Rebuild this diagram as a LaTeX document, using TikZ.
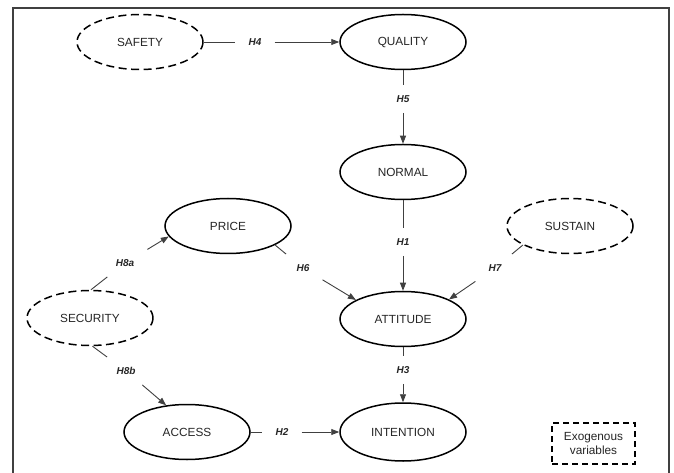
\documentclass[tikz,border=0pt]{standalone}
\usepackage{fontspec}
\setmainfont{Liberation Sans}
\usetikzlibrary{shapes.geometric,arrows.meta}
\tikzset{
  var/.style={ellipse,draw=black,line width=1.5bp,minimum width=126bp,minimum height=55bp,inner sep=0pt,
    font=\fontsize{11.8bp}{13bp}\selectfont,text=black!85},
  exo/.style={var,dash pattern=on 8bp off 4.5bp},
  hyp/.style={inner xsep=13bp,inner ysep=10bp,text height=7.5bp,text depth=0pt,
    font=\fontsize{10bp}{12bp}\selectfont\bfseries\itshape,text=black!85},
  link/.style={draw=black!75,line width=0.9bp},
  arr/.style={link,-{Triangle[length=8bp,width=6bp]}},
}
\begin{document}
\begin{tikzpicture}[x=1bp,y=-1bp]
\useasboundingbox (0,0) rectangle (674,473);
\fill[white] (0,0) rectangle (674,473);
\draw[black!75,line width=1.4bp] (13,480) -- (13,8) -- (669,8) -- (669,480);

\node[exo] (saf) at (140,42) {SAFETY};
\node[var] (qua) at (403,42) {QUALITY};
\node[var] (nor) at (403,172) {NORMAL};
\node[var] (pri) at (228,226) {PRICE};
\node[exo] (sus) at (570,226) {SUSTAIN};
\node[exo] (sec) at (90,318) {SECURITY};
\node[var] (att) at (403,319) {ATTITUDE};
\node[var] (acc) at (187,432) {ACCESS};
\node[var,minimum height=58bp] (int) at (403,432) {INTENTION};

\node[hyp] (h4) at (255,42) {H4};
\node[hyp] (h5) at (403,99) {H5};
\node[hyp] (h1) at (403,242) {H1};
\node[hyp] (h3) at (403,370) {H3};
\node[hyp] (h2) at (282,432) {H2};
\node[hyp] (h6) at (303,268) {H6};
\node[hyp] (h7) at (495,268) {H7};
\node[hyp] (h8a) at (125,263) {H8a};
\node[hyp] (h8b) at (126,371) {H8b};

\draw[link] (saf.east) -- (h4);
\draw[arr] (h4) -- (qua.west);
\draw[link] (qua.south) -- (h5);
\draw[arr] (h5) -- (nor.north);
\draw[link] (nor.south) -- (h1);
\draw[arr] (h1) -- (att.north);
\draw[link] (att.south) -- (h3);
\draw[arr] (h3) -- (int.north);
\draw[link] (acc.east) -- (h2);
\draw[arr] (h2) -- (int.west);
\draw[link] (pri.-22) -- (h6);
\draw[arr] (h6) -- (att.158);
\draw[link] (sus.202) -- (h7);
\draw[arr] (h7) -- (att.23);
\draw[link] (sec.88) -- (h8a);
\draw[arr] (h8a) -- (pri.190);
\draw[link] (sec.-85) -- (h8b);
\draw[arr] (h8b) -- (acc.128);

\node[draw=black,line width=2bp,dash pattern=on 6bp off 4bp,minimum width=83bp,minimum height=41bp,
  inner sep=0pt,align=center,font=\fontsize{11.8bp}{13.5bp}\selectfont,text=black!85] (leg) at (593.5,443.5)
  {Exogenous\\variables};
\end{tikzpicture}
\end{document}
